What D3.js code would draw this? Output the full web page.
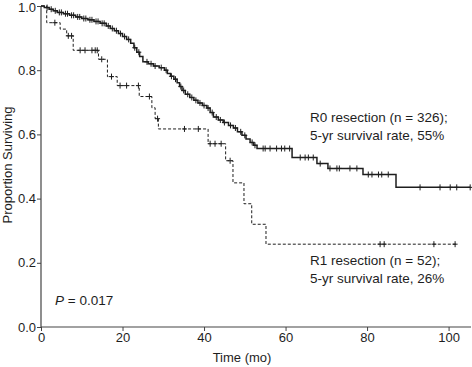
<!DOCTYPE html>
<html>
<head>
<meta charset="utf-8">
<script src="https://cdn.jsdelivr.net/npm/d3@7"></script>
<style>
  html, body { margin: 0; padding: 0; background: #fff; }
  svg { display: block; font-family: 'Liberation Sans', Arial, sans-serif; }
</style>
</head>
<body>
<svg id="km" width="472" height="367"></svg>
<script>
// ── Données ─────────────────────────────────────────────────────────────
// R0 : [temps (mois), survie après l'événement]
const r0Steps = [
  [0, 1], [0.8, 0.995], [2, 0.99], [3, 0.985], [4, 0.98], [5.5, 0.976], [7, 0.971],
  [8.5, 0.966], [10, 0.961], [11.5, 0.957], [13, 0.952], [14.5, 0.946], [16, 0.938],
  [17, 0.93], [18, 0.923], [19, 0.914], [20, 0.905], [21, 0.896], [22, 0.884],
  [22.8, 0.87], [23.5, 0.856], [24.2, 0.843], [25, 0.826], [26.3, 0.82], [27.6, 0.813],
  [29, 0.808], [30.3, 0.8], [31, 0.79], [31.8, 0.781], [32.6, 0.772], [33.4, 0.761],
  [34, 0.749], [34.6, 0.737], [35.4, 0.725], [36.5, 0.715], [37.5, 0.706], [38.5, 0.698],
  [39.6, 0.69], [40.7, 0.682], [41.5, 0.668], [42.3, 0.654], [43.5, 0.645], [44.7, 0.637],
  [46, 0.628], [47.2, 0.62], [48.2, 0.608], [49.3, 0.597], [50.3, 0.586], [51.3, 0.575],
  [52.2, 0.566], [53, 0.556], [61.6, 0.528], [67.7, 0.509], [70.4, 0.494], [79, 0.475],
  [87.1, 0.435]
];
const r0End = 105.3;
const r0Censored = [
  1.5, 2.5, 3.5, 4.5, 5, 6, 6.5, 7.5, 8, 9, 9.5, 10.5, 11, 12, 12.5, 13.5, 14, 15, 15.5,
  16.5, 17.5, 18.5, 19.5, 20.5, 21.5, 23, 24, 26, 27, 28, 29.5, 30.7, 32, 33, 34.3, 35,
  36, 37, 38, 39, 40, 41, 42, 43, 44, 45, 46.5, 47.7, 49, 50, 51.8, 52.5, 54.5, 55, 56.2,
  57.8, 59, 59.8, 61, 63.6, 64.8, 65.6, 66.8, 68.5, 70.9, 72.6, 73.2, 75.8, 77.5, 80.3,
  81.2, 82.8, 83.6, 85.2, 93, 97.9, 100.4, 102, 105.3
];

// R1
const r1Steps = [
  [0, 1], [1.4, 0.948], [4.7, 0.928], [6.3, 0.907], [7.9, 0.862], [14.1, 0.834],
  [16.3, 0.78], [18.7, 0.752], [24.1, 0.718], [27.2, 0.683], [28, 0.649], [28.8, 0.617],
  [41, 0.571], [45.3, 0.518], [47.1, 0.449], [49.8, 0.384], [51.7, 0.32], [55.2, 0.258]
];
const r1End = 102;
const r1Censored = [
  3.4, 6.7, 7.5, 9.6, 10.8, 12.5, 13.3, 13.8, 14.9, 17.3, 19.4, 21, 23.9, 26.6, 28.6,
  35.2, 38.6, 41.5, 42.7, 44.2, 46.4, 83.2, 84.2, 96.4, 101.6
];

const xTicks = [0, 20, 40, 60, 80, 100];
const yTicks = [0, 0.2, 0.4, 0.6, 0.8, 1.0];

// ── Échelles ────────────────────────────────────────────────────────────
const svg = d3.select('#km');
const x = d3.scaleLinear().domain([0, 105.5]).range([41, 471]);
const y = d3.scaleLinear().domain([0, 1]).range([327, 6]);
const ink = '#1e1e1e';

// survie à un instant t (fonction en escalier)
function survAt(steps, t) {
  let s = 1;
  steps.forEach(d => { if (d[0] <= t) s = d[1]; });
  return s;
}

// ── Axes ────────────────────────────────────────────────────────────────
const yAxis = svg.append('g').attr('transform', `translate(${x(0)},0)`)
  .call(d3.axisLeft(y).tickValues(yTicks).tickFormat(d3.format('.1f')).tickSize(4).tickPadding(1));
const xAxis = svg.append('g').attr('transform', `translate(0,${y(0)})`)
  .call(d3.axisBottom(x).tickValues(xTicks).tickSize(4).tickPadding(2));

[xAxis, yAxis].forEach(g => {
  g.select('.domain').attr('stroke', '#444').attr('stroke-width', 1.2);
  g.selectAll('.tick line').attr('stroke', '#444');
  g.selectAll('.tick text').attr('fill', ink).attr('font-size', '13px')
    .attr('font-family', "'Liberation Sans', Arial, sans-serif");
});
yAxis.select('.domain').attr('d', `M-0,${y(0)}V${y(1)}`);
xAxis.select('.domain').attr('d', `M${x(0)},0H${x(105.5)}`);
// « 1.0 » collé au bord haut : on le garde entier
yAxis.selectAll('.tick text').filter(d => d === 1).attr('dy', '0.42em');

// ── Courbes ─────────────────────────────────────────────────────────────
const line = d3.line().x(d => x(d[0])).y(d => y(d[1])).curve(d3.curveStepAfter);

function drawCurve(steps, end, censored, dash, width) {
  const pts = steps.concat([[end, steps[steps.length - 1][1]]]);
  svg.append('path').datum(pts)
    .attr('fill', 'none').attr('stroke', ink).attr('stroke-width', width)
    .attr('stroke-dasharray', dash).attr('d', line);

  const g = svg.append('g').attr('stroke', ink).attr('stroke-width', 1);
  censored.forEach(t => {
    const cx = x(t), cy = y(survAt(steps, t));
    g.append('line').attr('x1', cx).attr('x2', cx).attr('y1', cy - 3).attr('y2', cy + 3);
    g.append('line').attr('x1', cx - 2.5).attr('x2', cx + 2.5).attr('y1', cy).attr('y2', cy);
  });
}

drawCurve(r1Steps, r1End, r1Censored, '3,2', 1);
drawCurve(r0Steps, r0End, r0Censored, null, 1.5);

// ── Textes ──────────────────────────────────────────────────────────────
const txt = (tx, ty, s) => svg.append('text').attr('x', tx).attr('y', ty)
  .attr('fill', ink).attr('font-size', '13.5px').text(s);

txt(310, 122, 'R0 resection (n = 326);');
txt(310, 140, '5-yr survival rate, 55%');
txt(310, 265, 'R1 resection (n = 52);');
txt(310, 283, '5-yr survival rate, 26%');

const p = svg.append('text').attr('x', 55).attr('y', 305).attr('fill', ink).attr('font-size', '13.5px');
p.append('tspan').attr('font-style', 'italic').text('P');
p.append('tspan').text(' = 0.017');

svg.append('text').attr('x', 242).attr('y', 362).attr('text-anchor', 'middle')
  .attr('fill', ink).attr('font-size', '13px').text('Time (mo)');

svg.append('text').attr('transform', 'translate(12,165) rotate(-90)')
  .attr('text-anchor', 'middle').attr('fill', ink).attr('font-size', '13px')
  .text('Proportion Surviving');
</script>
</body>
</html>
